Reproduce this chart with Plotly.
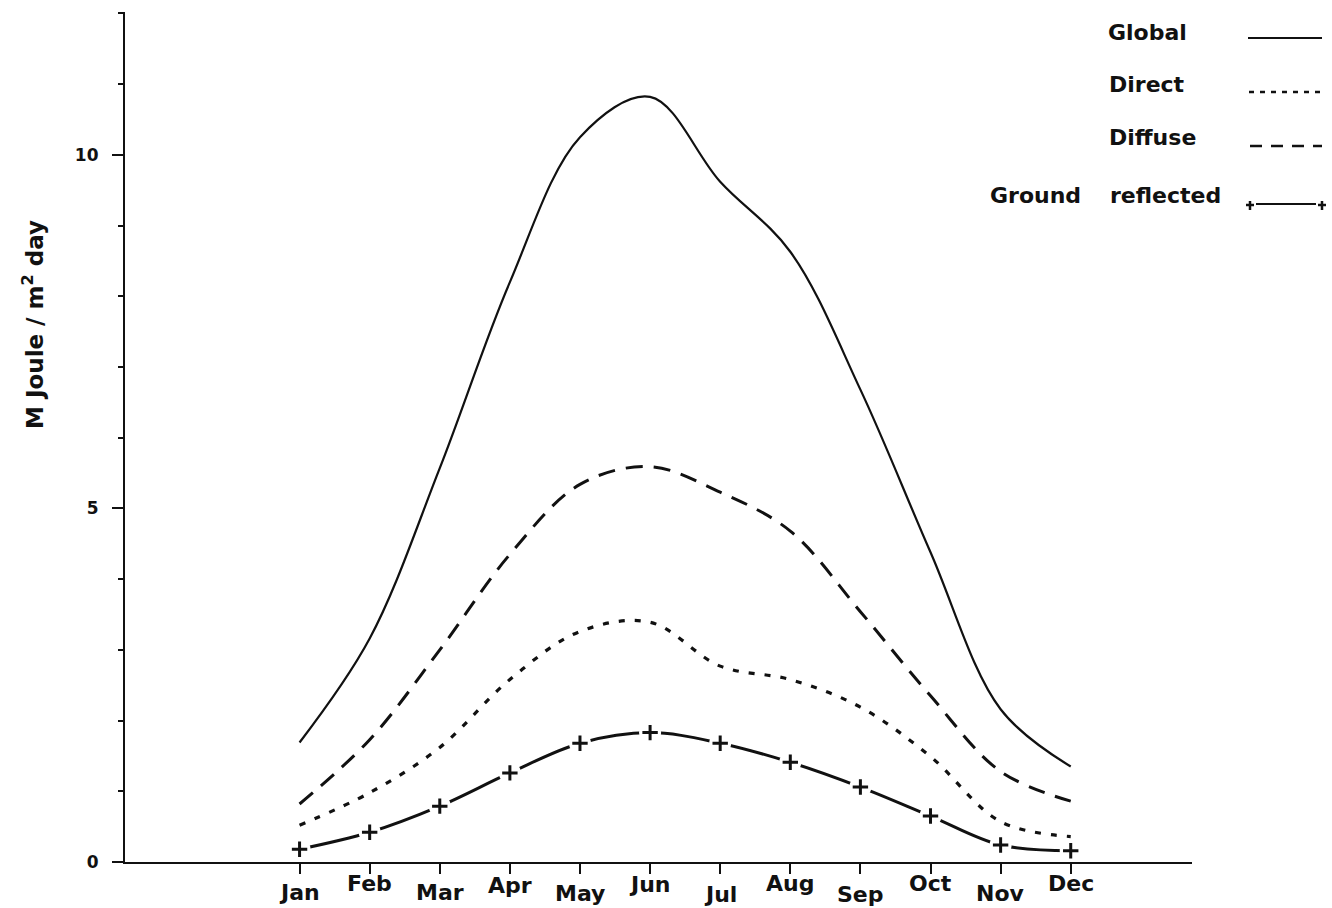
import plotly.graph_objects as go

months = ["Jan", "Feb", "Mar", "Apr", "May", "Jun", "Jul", "Aug", "Sep", "Oct", "Nov", "Dec"]
month_idx = list(range(12))

global_rad = [1.69, 3.16, 5.57, 8.20, 10.25, 10.82, 9.62, 8.63, 6.68, 4.38, 2.16, 1.35]
diffuse_rad = [0.82, 1.73, 3.00, 4.35, 5.34, 5.59, 5.23, 4.68, 3.54, 2.35, 1.28, 0.86]
direct_rad = [0.52, 0.98, 1.62, 2.58, 3.26, 3.39, 2.77, 2.58, 2.19, 1.49, 0.57, 0.36]
ground_rad = [0.18, 0.42, 0.79, 1.26, 1.68, 1.83, 1.68, 1.41, 1.06, 0.65, 0.24, 0.16]

# staggered label offsets (px below axis)
label_offsets = [30, 21, 30, 23, 31, 22, 32, 21, 32, 21, 31, 21]

W, H = 1332, 908
ML, MR, MT, MB = 125, 140, 12, 46
PW, PH = W - ML - MR, H - MT - MB

def px(x):
    return (x - ML) / PW

def py(y):
    return (H - MB - y) / PH

FONT = "DejaVu Sans, Liberation Sans, Arial"
INK = "#111111"

fig = go.Figure()

fig.add_trace(go.Scatter(x=month_idx, y=global_rad, mode="lines",
                         line=dict(color=INK, width=2.2, shape="spline", smoothing=1.0),
                         showlegend=False, hoverinfo="skip"))
fig.add_trace(go.Scatter(x=month_idx, y=diffuse_rad, mode="lines",
                         line=dict(color=INK, width=3, shape="spline", smoothing=1.0, dash="17px,11px"),
                         showlegend=False, hoverinfo="skip"))
fig.add_trace(go.Scatter(x=month_idx, y=direct_rad, mode="lines",
                         line=dict(color=INK, width=3.2, shape="spline", smoothing=1.0, dash="6px,10px"),
                         showlegend=False, hoverinfo="skip"))
fig.add_trace(go.Scatter(x=month_idx, y=ground_rad, mode="lines",
                         line=dict(color=INK, width=3, shape="spline", smoothing=1.0),
                         showlegend=False, hoverinfo="skip"))
fig.add_trace(go.Scatter(x=month_idx, y=ground_rad, mode="markers",
                         marker=dict(symbol="circle", size=22, color="white", opacity=1, line=dict(width=0)),
                         showlegend=False, hoverinfo="skip"))
fig.add_trace(go.Scatter(x=month_idx, y=ground_rad, mode="markers",
                         marker=dict(symbol="cross-thin", size=11, color=INK, line=dict(width=3, color=INK)),
                         showlegend=False, hoverinfo="skip"))

annotations = []
for i, (m, off) in enumerate(zip(months, label_offsets)):
    annotations.append(dict(x=i, y=0, xref="x", yref="paper", text=m, showarrow=False,
                            xanchor="center", yanchor="middle", yshift=-off,
                            font=dict(family=FONT, size=22, color=INK, weight="bold")))

# y-axis title
annotations.append(dict(x=px(33), y=py(325), xref="paper", yref="paper",
                        text="M Joule / m<sup>2</sup> day", textangle=-90, showarrow=False,
                        xanchor="center", yanchor="middle",
                        font=dict(family=FONT, size=23, color=INK, weight="bold")))

# legend texts
leg_font = dict(family=FONT, size=22, color=INK, weight="bold")
for txt, xl, yc in [("Global", 1106, 32), ("Direct", 1107, 84), ("Diffuse", 1107, 138),
                    ("Ground", 988, 195), ("reflected", 1108, 195)]:
    annotations.append(dict(x=px(xl), y=py(yc), xref="paper", yref="paper", text=txt,
                            showarrow=False, xanchor="left", yanchor="middle", font=leg_font))

shapes = [
    dict(type="line", xref="paper", yref="paper", x0=px(1248), x1=px(1322), y0=py(38), y1=py(38),
         line=dict(color=INK, width=2)),
    dict(type="line", xref="paper", yref="paper", x0=px(1249), x1=px(1322), y0=py(92), y1=py(92),
         line=dict(color=INK, width=2.5, dash="5px,6px")),
    dict(type="line", xref="paper", yref="paper", x0=px(1250), x1=px(1322), y0=py(146), y1=py(146),
         line=dict(color=INK, width=2.5, dash="12px,9px")),
    dict(type="line", xref="paper", yref="paper", x0=px(1256), x1=px(1316), y0=py(204), y1=py(204),
         line=dict(color=INK, width=2.2)),
]
for cx in (1250, 1322):
    shapes.append(dict(type="line", xref="paper", yref="paper", x0=px(cx - 4), x1=px(cx + 4),
                       y0=py(205), y1=py(205), line=dict(color=INK, width=2.5)))
    shapes.append(dict(type="line", xref="paper", yref="paper", x0=px(cx), x1=px(cx),
                       y0=py(201), y1=py(210), line=dict(color=INK, width=2.5)))

fig.update_layout(
    width=W, height=H,
    margin=dict(l=ML, r=MR, t=MT, b=MB),
    paper_bgcolor="white", plot_bgcolor="white",
    xaxis=dict(range=[-2.49, 12.73], showgrid=False, zeroline=False, showline=True,
               linecolor=INK, linewidth=2, ticks="outside", ticklen=10, tickwidth=1.5,
               tickcolor=INK, tickvals=month_idx, showticklabels=False),
    yaxis=dict(range=[0, 12.02], showgrid=False, zeroline=False, showline=True,
               linecolor=INK, linewidth=2.2, ticks="outside", ticklen=11, tickwidth=1.8,
               tickcolor=INK, tickvals=[0, 5, 10], ticktext=["0", "5", "10"],
               ticklabelstandoff=10,
               tickfont=dict(family=FONT, size=17, color=INK, weight="bold"),
               minor=dict(dtick=1, tick0=0, ticks="outside", ticklen=5, tickwidth=1.5, tickcolor=INK)),
    annotations=annotations,
    shapes=shapes,
)

fig.write_html("out.html")
